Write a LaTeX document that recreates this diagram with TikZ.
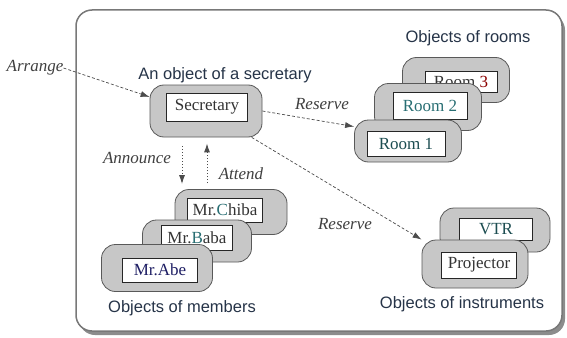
\documentclass[tikz,border=0pt]{standalone}
\usepackage{fontspec}
\setmainfont{Liberation Serif}
\setsansfont{Liberation Sans}
\usetikzlibrary{arrows.meta}
\definecolor{labc}{RGB}{38,52,72}
\definecolor{tealc}{RGB}{40,110,115}
\definecolor{navyc}{RGB}{30,30,100}
\definecolor{framec}{RGB}{120,120,120}
\begin{document}
\begin{tikzpicture}[x=1pt,y=-1pt,
 outerbox/.style={draw=black!65, line width=0.8pt, fill=black!22, rounded corners=14pt, inner sep=0pt},
 innerbox/.style={draw=black!85, line width=0.9pt, fill=white, inner sep=0pt, font=\fontsize{17}{20}\selectfont, text=black!80},
 grouplabel/.style={font=\sffamily\fontsize{16.5}{20}\selectfont, text=labc, anchor=base},
 msglabel/.style={font=\itshape\fontsize{17}{20}\selectfont, text=black!75, inner sep=0pt},
 msg/.style={draw=black!70, line width=0.7pt, dash pattern=on 3pt off 2pt, -{Latex[length=9pt,width=6pt]}},
 dotarrow/.style={draw=black!70, line width=1pt, dash pattern=on 1pt off 2pt, -{Latex[length=9pt,width=6pt]}}
]
\useasboundingbox (0,0) rectangle (567,337);
% frame with shadow
\fill[black!45, rounded corners=16pt] (79,14) rectangle (565,335);
\filldraw[fill=white, draw=framec, line width=1.5pt, rounded corners=16pt] (76,10) rectangle (562,331);

% labels
\node[msglabel] (arr) at (35,68) {Arrange};
\node[grouplabel] (secl) at (225,79) {An object of a secretary};
\node[grouplabel] (roomsl) at (468,43) {Objects of rooms};
\node[grouplabel] (membl) at (182,312) {Objects of members};
\node[grouplabel] (instl) at (462,308) {Objects of instruments};

% secretary
\node[outerbox, minimum width=112pt, minimum height=52pt] (sec) at (206,111) {};
\node[innerbox, minimum width=81pt, minimum height=28pt] (sect) at (207,107) {Secretary};

% rooms
\node[outerbox, minimum width=107pt, minimum height=45pt] (room3) at (456,80) {};
\node[innerbox, minimum width=72pt, minimum height=21pt] (room3t) at (461,82) {Room {\color{red!55!black}3}};
\node[outerbox, minimum width=107pt, minimum height=47pt] (room2) at (428,107) {};
\node[innerbox, minimum width=74pt, minimum height=27pt, text=tealc] (room2t) at (430,106) {Room 2};
\node[outerbox, minimum width=107pt, minimum height=42pt] (room1) at (408,141) {};
\node[innerbox, minimum width=78pt, minimum height=25pt, text=tealc!70!black] (room1t) at (406,144) {Room 1};

% instruments
\node[outerbox, minimum width=110pt, minimum height=44pt] (vtr) at (495,230) {};
\node[innerbox, minimum width=73pt, minimum height=22pt, text=tealc!70!black] (vtrt) at (496,229) {VTR};
\node[outerbox, minimum width=106pt, minimum height=48pt] (proj) at (475,264) {};
\node[innerbox, minimum width=75pt, minimum height=26pt] (projt) at (479,265) {Projector};

% members
\node[outerbox, minimum width=112pt, minimum height=45pt] (chiba) at (231,212) {};
\node[innerbox, minimum width=75pt, minimum height=24pt] (chibat) at (225,210) {Mr.{\color{tealc}C}hiba};
\node[outerbox, minimum width=109pt, minimum height=42pt] (baba) at (197,241) {};
\node[innerbox, minimum width=71pt, minimum height=25pt] (babat) at (197,238) {Mr.{\color{tealc}B}aba};
\node[outerbox, minimum width=111pt, minimum height=47pt] (abe) at (157,268) {};
\node[innerbox, minimum width=75pt, minimum height=24pt, text=navyc] (abet) at (160,270) {Mr.Abe};

% message labels
\node[msglabel] (res1) at (322,104) {Reserve};
\node[msglabel] (res2) at (345,224) {Reserve};
\node[msglabel] (annl) at (137,158) {Announce};
\node[msglabel] (attl) at (241,174) {Attend};

% connectors
\draw[msg] (arr.east) -- (sec.166);
\draw[msg] (sec.east) -- (room1.165);
\draw[msg] (sec.-30) -- (proj.north west);
\draw[dotarrow, shorten <=9pt, shorten >=5pt] ([xshift=-24pt]sec.south) -- ([xshift=-49pt]chiba.north);
\draw[dotarrow, shorten <=6pt, shorten >=6pt] ([xshift=-24pt]chiba.north) -- ([xshift=1pt]sec.south);
\end{tikzpicture}
\end{document}
